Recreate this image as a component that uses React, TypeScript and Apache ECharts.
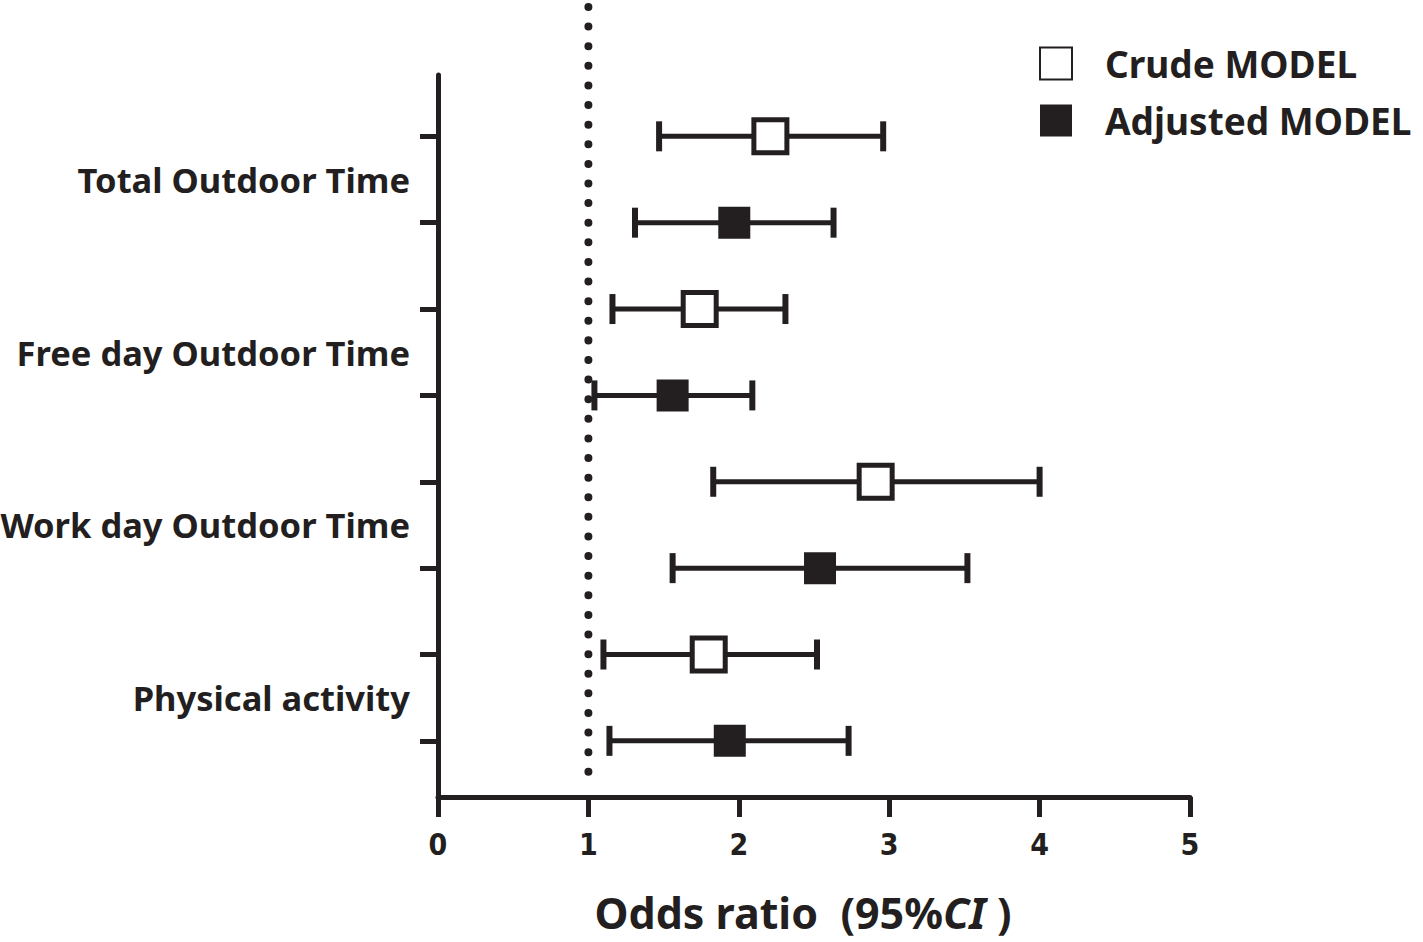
import React, { useEffect, useRef } from "react";
import * as echarts from "echarts";

const categories = [
  "Total Outdoor Time",
  "Free day Outdoor Time",
  "Work day Outdoor Time",
  "Physical activity",
];
const crudeOR = [2.21, 1.74, 2.91, 1.8];
const crudeLow = [1.47, 1.16, 1.83, 1.1];
const crudeHigh = [2.96, 2.31, 4.0, 2.52];
const adjustedOR = [1.97, 1.56, 2.54, 1.94];
const adjustedLow = [1.31, 1.04, 1.56, 1.14];
const adjustedHigh = [2.63, 2.09, 3.52, 2.73];
const xTicks = [0, 1, 2, 3, 4, 5];
const referenceOR = 1;

const INK = "#231f20";
const FONT = "'Noto Sans', 'Open Sans', sans-serif";
const NARROW = "'Liberation Sans Narrow', 'DejaVu Sans Condensed', Roboto, sans-serif";

const rowCrude = (i: number) => 2 * i + 1;
const rowAdjusted = (i: number) => 2 * i + 2;

function errorBars(low: number[], high: number[], rowOf: (i: number) => number) {
  return {
    type: "custom",
    silent: true,
    z: 2,
    data: low.map((l, i) => [rowOf(i), l, high[i]]),
    encode: { x: [1, 2], y: 0 },
    renderItem: (params: any, api: any) => {
      const row = api.value(0);
      const a = api.coord([api.value(1), row]);
      const b = api.coord([api.value(2), row]);
      const h = 15;
      const st = { stroke: INK, lineWidth: 5 };
      return {
        type: "group",
        children: [
          { type: "line", shape: { x1: a[0], y1: a[1], x2: b[0], y2: b[1] }, style: st },
          { type: "line", shape: { x1: a[0], y1: a[1] - h, x2: a[0], y2: a[1] + h }, style: { ...st, lineWidth: 6 } },
          { type: "line", shape: { x1: b[0], y1: b[1] - h, x2: b[0], y2: b[1] + h }, style: { ...st, lineWidth: 6 } },
        ],
      };
    },
  };
}

export default function App() {
  const ref = useRef<HTMLDivElement>(null);
  useEffect(() => {
    document.body.style.margin = "0";
    const chart = echarts.init(ref.current!, null, { renderer: "svg" });
    chart.setOption({
      animation: false,
      backgroundColor: "#ffffff",
      grid: { left: 438, right: 233, top: 75, bottom: 145, outerBoundsMode: "none", containLabel: false },
      legend: {
        data: ["Crude MODEL", "Adjusted MODEL"],
        orient: "vertical",
        left: 1034,
        top: 40,
        itemWidth: 32,
        itemHeight: 32,
        itemGap: 20,
        textStyle: { fontFamily: FONT, fontWeight: "bold", fontSize: 37, color: INK, padding: [0, 0, 0, 28], lineHeight: 36 },
        selectedMode: false,
      },
      xAxis: {
        type: "value",
        min: xTicks[0],
        max: xTicks[xTicks.length - 1],
        interval: 1,
        splitLine: { show: false },
        axisLine: { show: true, lineStyle: { color: INK, width: 5 } },
        axisTick: { show: true, length: 20, lineStyle: { color: INK, width: 5 } },
        axisLabel: { color: INK, fontFamily: NARROW, fontWeight: "bold", fontSize: 30, margin: 32 },
        name: "{n|Odds ratio  (95%}{i|CI}{n| )}",
        nameLocation: "middle",
        nameGap: 94,
        nameTextStyle: {
          padding: [0, 22, 0, 0],
          rich: {
            n: { fontFamily: FONT, fontWeight: "bold", fontSize: 43, lineHeight: 43, color: INK },
            i: { fontFamily: FONT, fontWeight: "bold", fontStyle: "italic", fontSize: 43, lineHeight: 43, color: INK },
          },
        },
      },
      yAxis: {
        type: "value",
        inverse: true,
        min: 0.29,
        max: 8.65,
        splitLine: { show: false },
        axisLine: { show: true, lineStyle: { color: INK, width: 5 } },
        axisTick: {
          show: true,
          length: 18,
          lineStyle: { color: INK, width: 5 },
          customValues: [1, 2, 3, 4, 5, 6, 7, 8],
        },
        axisLabel: {
          customValues: categories.map((_, i) => 2 * i + 1.5),
          formatter: (v: number) => categories[Math.round((v - 1.5) / 2)] ?? "",
          color: INK,
          fontFamily: FONT,
          fontWeight: "bold",
          fontSize: 34.5,
          margin: 28,
        },
      },
      series: [
        {
          type: "custom",
          silent: true,
          z: 1,
          data: [[referenceOR]],
          encode: { x: 0 },
          clip: false,
          renderItem: (params: any, api: any) => {
            const cs = params.coordSys;
            const x = api.coord([api.value(0), 1])[0];
            return {
              type: "line",
              shape: { x1: x, y1: 7, x2: x, y2: cs.y + cs.height - 6 },
              style: { stroke: INK, lineWidth: 8, lineDash: [0.01, 19.6], lineCap: "round" },
            };
          },
        },
        errorBars(crudeLow, crudeHigh, rowCrude),
        errorBars(adjustedLow, adjustedHigh, rowAdjusted),
        {
          name: "Crude MODEL",
          type: "scatter",
          z: 3,
          symbol: "rect",
          symbolSize: 33,
          data: crudeOR.map((v, i) => [v, rowCrude(i)]),
          itemStyle: { color: "#ffffff", borderColor: INK, borderWidth: 5, opacity: 1 },
        },
        {
          name: "Adjusted MODEL",
          type: "scatter",
          z: 3,
          symbol: "rect",
          symbolSize: 32,
          data: adjustedOR.map((v, i) => [v, rowAdjusted(i)]),
          itemStyle: { color: INK, opacity: 1 },
        },
      ],
    });
    return () => chart.dispose();
  }, []);
  return <div ref={ref} style={{ position: "absolute", left: 0, top: 0, width: 1423, height: 942 }} />;
}
